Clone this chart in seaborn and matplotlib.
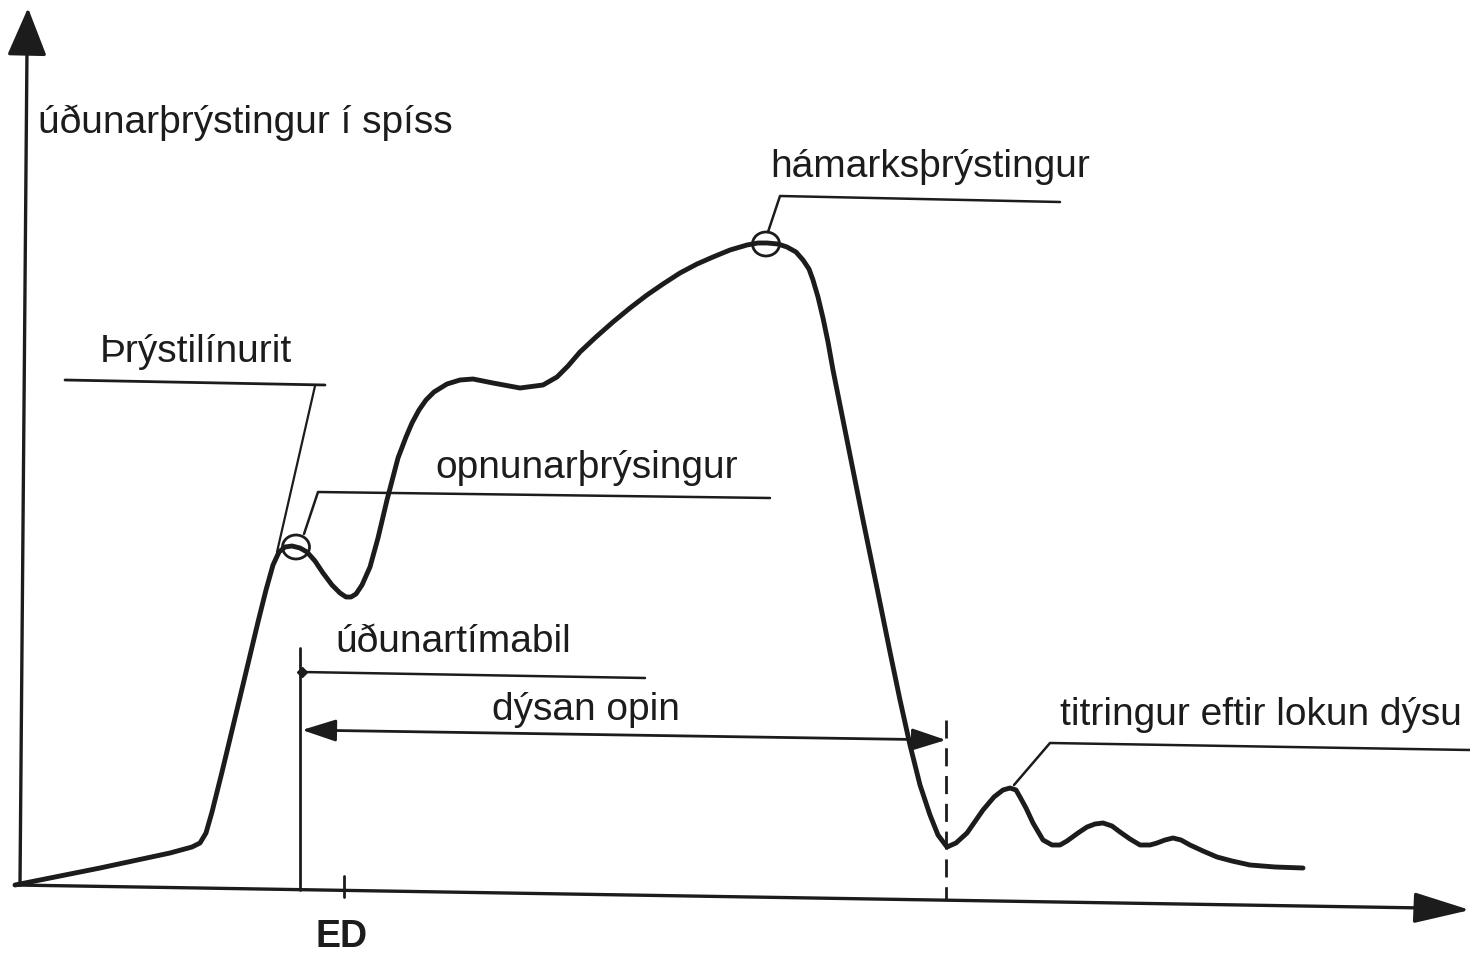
import matplotlib
matplotlib.use("Agg")
import matplotlib.pyplot as plt
from matplotlib.patches import Ellipse
import pandas as pd
import seaborn as sns

sns.set_theme(style="white")
plt.rcParams["font.family"] = ["Liberation Sans", "DejaVu Sans"]

INK = "#1c1c1c"

# Injection pressure trace in drawing units (x: time, y: measured downward)
time = [15, 100, 170, 192, 200, 206, 212, 222, 235, 247, 258, 266, 273, 279,
        285, 292, 300, 307, 315, 323, 332, 340, 346, 351, 356, 362, 370, 378,
        387, 398, 406, 412, 419, 426, 434, 447, 460, 473, 493, 520, 543, 557,
        568, 580, 596, 613, 630, 647, 663, 680, 697, 713, 730, 747, 758, 767,
        778, 787, 796, 803, 809, 813, 818, 823, 828, 833, 840, 850, 863, 877,
        890, 900, 910, 920, 930, 938, 947, 956, 967, 983, 994, 1003, 1010,
        1016, 1020, 1026, 1033, 1043, 1052, 1060, 1067, 1078, 1087, 1095,
        1103, 1112, 1120, 1130, 1140, 1150, 1157, 1165, 1173, 1181, 1190,
        1203, 1217, 1232, 1250, 1275, 1303]
pressure = [885, 868, 853, 847, 843, 833, 812, 772, 718, 668, 622, 590, 565,
            552, 547, 546, 548, 552, 561, 573, 585, 593, 597, 597, 594, 585,
            567, 538, 500, 458, 437, 423, 410, 400, 392, 384, 380, 379, 383,
            388, 385, 377, 366, 352, 337, 322, 308, 295, 284, 273, 264, 257,
            250, 245, 243, 243, 244, 247, 252, 260, 269, 280, 297, 318, 342,
            370, 405, 455, 520, 588, 652, 700, 745, 785, 815, 835, 847, 843,
            833, 810, 797, 790, 788, 790, 797, 808, 823, 840, 845, 845, 841,
            833, 827, 824, 823, 826, 832, 839, 845, 845, 843, 840, 838, 840,
            845, 851, 857, 861, 865, 867, 868]

# Marked events on the time axis
t_start = 300      # start of injection (needle lift)
t_ed = 344         # ED
t_close = 946      # nozzle closes

# Annotated points on the trace
opening_point = (296, 547)
peak_point = (766, 244)
ringing_point = (1010, 787)

labels = ["úðunarþrýstingur í spíss", "Þrýstilínurit", "opnunarþrýsingur",
          "úðunartímabil", "dýsan opin", "hámarksþrýstingur",
          "titringur eftir lokun dýsu", "ED"]

fig = plt.figure(figsize=(14.7, 9.57), dpi=100)
ax = fig.add_axes([0, 0, 1, 1])
ax.set_xlim(0, 1470)
ax.set_ylim(957, 0)
ax.axis("off")

# pressure curve
df = pd.DataFrame({"time": time, "pressure": pressure})
sns.lineplot(data=df, x="time", y="pressure", sort=False, estimator=None,
             ax=ax, color=INK, linewidth=3.5, solid_joinstyle="round",
             solid_capstyle="round")

# axes with arrow heads
ax.plot([20, 27], [885, 48], color=INK, lw=2.4)
ax.annotate("", xy=(28, 8), xytext=(27, 52),
            arrowprops=dict(arrowstyle="-|>,head_length=1.5,head_width=0.62",
                            mutation_scale=20, color=INK, lw=2.4,
                            shrinkA=0, shrinkB=0))
ax.plot([15, 1425], [885, 908], color=INK, lw=2.4)
ax.annotate("", xy=(1470, 910), xytext=(1420, 908),
            arrowprops=dict(arrowstyle="-|>,head_length=1.75,head_width=0.48",
                            mutation_scale=20, color=INK, lw=2.4,
                            shrinkA=0, shrinkB=0))

# start of injection line and ED tick
ax.plot([t_start, t_start], [648, 890], color=INK, lw=2.0)
ax.plot([t_ed, t_ed], [876, 897], color=INK, lw=2.0)
ax.plot([t_start + 2], [672], marker="D", ms=5, color=INK)

# nozzle open span
ax.annotate("", xy=(t_start + 2, 730), xytext=(t_close, 740),
            arrowprops=dict(arrowstyle="<|-|>,head_length=1.05,head_width=0.34",
                            mutation_scale=20, color=INK, lw=2.0,
                            shrinkA=0, shrinkB=0))
ax.plot([t_close, t_close], [720, 900], color=INK, lw=2.0,
        linestyle=(0, (6.5, 3.5)))

# circled points
for (cx, cy) in (opening_point, peak_point):
    ax.add_patch(Ellipse((cx, cy), 27, 24, fill=False, ec=INK, lw=2.0))

# leader lines
ax.plot([65, 325], [380, 385], color=INK, lw=2.0)
ax.plot([315, 277], [386, 552], color=INK, lw=1.6)
ax.plot([opening_point[0] + 8, 318, 770], [534, 492, 498], color=INK, lw=1.8)
ax.plot([t_start + 2, 645], [672, 678], color=INK, lw=1.8)
ax.plot([peak_point[0] + 2, 780, 1060], [232, 196, 202], color=INK, lw=1.8)
ax.plot([ringing_point[0] + 4, 1050, 1470], [785, 743, 750], color=INK, lw=1.8)

# text
fs = 28
ax.text(38, 133, labels[0], fontsize=fs, color=INK)
ax.text(100, 362, labels[1], fontsize=fs, color=INK)
ax.text(435, 478, labels[2], fontsize=fs, color=INK)
ax.text(335, 652, labels[3], fontsize=fs, color=INK)
ax.text(492, 720, labels[4], fontsize=fs, color=INK)
ax.text(770, 177, labels[5], fontsize=fs, color=INK)
ax.text(1060, 725, labels[6], fontsize=fs, color=INK)
ax.text(t_ed - 2, 947, labels[7], fontsize=fs - 1, color=INK, ha="center",
        fontweight="bold")

fig.savefig("out.png", dpi=100, facecolor="white")
